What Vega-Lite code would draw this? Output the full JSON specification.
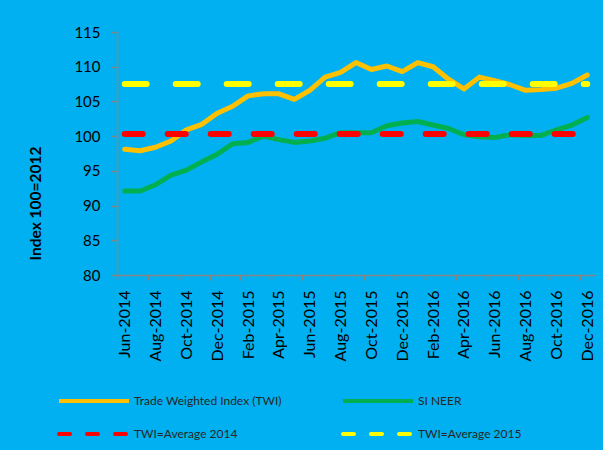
{
  "$schema": "https://vega.github.io/schema/vega-lite/v6.json",
  "width": 478,
  "height": 243,
  "autosize": {"type": "none"},
  "padding": {"left": 117, "top": 32, "right": 8, "bottom": 175},
  "background": "#00B0F0",
  "config": {
    "view": {"stroke": null},
    "font": "Lato",
    "legend": {
      "title": null,
      "orient": "none",
      "direction": "horizontal",
      "columns": 2,
      "symbolType": "stroke",
      "symbolSize": 4900,
      "symbolStrokeWidth": 4,
      "labelFont": "Lato",
      "labelFontSize": 12,
      "labelColor": "#262626",
      "labelOffset": 3,
      "columnPadding": 53,
      "labelLimit": 300
    }
  },
  "data": {
    "values": [
      {"month": "Jun-2014", "Trade Weighted Index (TWI)": 98.1, "SI NEER": 92.1, "TWI=Average 2014": 100.3, "TWI=Average 2015": 107.5},
      {"month": "Jul-2014", "Trade Weighted Index (TWI)": 97.9, "SI NEER": 92.1, "TWI=Average 2014": 100.3, "TWI=Average 2015": 107.5},
      {"month": "Aug-2014", "Trade Weighted Index (TWI)": 98.4, "SI NEER": 93.0, "TWI=Average 2014": 100.3, "TWI=Average 2015": 107.5},
      {"month": "Sep-2014", "Trade Weighted Index (TWI)": 99.3, "SI NEER": 94.4, "TWI=Average 2014": 100.3, "TWI=Average 2015": 107.5},
      {"month": "Oct-2014", "Trade Weighted Index (TWI)": 100.9, "SI NEER": 95.1, "TWI=Average 2014": 100.3, "TWI=Average 2015": 107.5},
      {"month": "Nov-2014", "Trade Weighted Index (TWI)": 101.7, "SI NEER": 96.3, "TWI=Average 2014": 100.3, "TWI=Average 2015": 107.5},
      {"month": "Dec-2014", "Trade Weighted Index (TWI)": 103.3, "SI NEER": 97.4, "TWI=Average 2014": 100.3, "TWI=Average 2015": 107.5},
      {"month": "Jan-2015", "Trade Weighted Index (TWI)": 104.3, "SI NEER": 98.9, "TWI=Average 2014": 100.3, "TWI=Average 2015": 107.5},
      {"month": "Feb-2015", "Trade Weighted Index (TWI)": 105.8, "SI NEER": 99.1, "TWI=Average 2014": 100.3, "TWI=Average 2015": 107.5},
      {"month": "Mar-2015", "Trade Weighted Index (TWI)": 106.1, "SI NEER": 100.0, "TWI=Average 2014": 100.3, "TWI=Average 2015": 107.5},
      {"month": "Apr-2015", "Trade Weighted Index (TWI)": 106.1, "SI NEER": 99.5, "TWI=Average 2014": 100.3, "TWI=Average 2015": 107.5},
      {"month": "May-2015", "Trade Weighted Index (TWI)": 105.3, "SI NEER": 99.1, "TWI=Average 2014": 100.3, "TWI=Average 2015": 107.5},
      {"month": "Jun-2015", "Trade Weighted Index (TWI)": 106.6, "SI NEER": 99.3, "TWI=Average 2014": 100.3, "TWI=Average 2015": 107.5},
      {"month": "Jul-2015", "Trade Weighted Index (TWI)": 108.5, "SI NEER": 99.7, "TWI=Average 2014": 100.3, "TWI=Average 2015": 107.5},
      {"month": "Aug-2015", "Trade Weighted Index (TWI)": 109.2, "SI NEER": 100.5, "TWI=Average 2014": 100.3, "TWI=Average 2015": 107.5},
      {"month": "Sep-2015", "Trade Weighted Index (TWI)": 110.6, "SI NEER": 100.5, "TWI=Average 2014": 100.3, "TWI=Average 2015": 107.5},
      {"month": "Oct-2015", "Trade Weighted Index (TWI)": 109.6, "SI NEER": 100.5, "TWI=Average 2014": 100.3, "TWI=Average 2015": 107.5},
      {"month": "Nov-2015", "Trade Weighted Index (TWI)": 110.1, "SI NEER": 101.5, "TWI=Average 2014": 100.3, "TWI=Average 2015": 107.5},
      {"month": "Dec-2015", "Trade Weighted Index (TWI)": 109.3, "SI NEER": 101.9, "TWI=Average 2014": 100.3, "TWI=Average 2015": 107.5},
      {"month": "Jan-2016", "Trade Weighted Index (TWI)": 110.6, "SI NEER": 102.1, "TWI=Average 2014": 100.3, "TWI=Average 2015": 107.5},
      {"month": "Feb-2016", "Trade Weighted Index (TWI)": 110.0, "SI NEER": 101.6, "TWI=Average 2014": 100.3, "TWI=Average 2015": 107.5},
      {"month": "Mar-2016", "Trade Weighted Index (TWI)": 108.2, "SI NEER": 101.1, "TWI=Average 2014": 100.3, "TWI=Average 2015": 107.5},
      {"month": "Apr-2016", "Trade Weighted Index (TWI)": 106.8, "SI NEER": 100.2, "TWI=Average 2014": 100.3, "TWI=Average 2015": 107.5},
      {"month": "May-2016", "Trade Weighted Index (TWI)": 108.5, "SI NEER": 99.9, "TWI=Average 2014": 100.3, "TWI=Average 2015": 107.5},
      {"month": "Jun-2016", "Trade Weighted Index (TWI)": 108.0, "SI NEER": 99.8, "TWI=Average 2014": 100.3, "TWI=Average 2015": 107.5},
      {"month": "Jul-2016", "Trade Weighted Index (TWI)": 107.4, "SI NEER": 100.2, "TWI=Average 2014": 100.3, "TWI=Average 2015": 107.5},
      {"month": "Aug-2016", "Trade Weighted Index (TWI)": 106.6, "SI NEER": 100.1, "TWI=Average 2014": 100.3, "TWI=Average 2015": 107.5},
      {"month": "Sep-2016", "Trade Weighted Index (TWI)": 106.7, "SI NEER": 100.1, "TWI=Average 2014": 100.3, "TWI=Average 2015": 107.5},
      {"month": "Oct-2016", "Trade Weighted Index (TWI)": 106.9, "SI NEER": 100.9, "TWI=Average 2014": 100.3, "TWI=Average 2015": 107.5},
      {"month": "Nov-2016", "Trade Weighted Index (TWI)": 107.6, "SI NEER": 101.6, "TWI=Average 2014": 100.3, "TWI=Average 2015": 107.5},
      {"month": "Dec-2016", "Trade Weighted Index (TWI)": 108.8, "SI NEER": 102.7, "TWI=Average 2014": 100.3, "TWI=Average 2015": 107.5}
    ]
  },
  "transform": [
    {"fold": ["Trade Weighted Index (TWI)", "SI NEER", "TWI=Average 2014", "TWI=Average 2015"], "as": ["series", "value"]}
  ],
  "encoding": {
    "x": {
      "field": "month",
      "type": "ordinal",
      "sort": null,
      "scale": {"type": "point", "padding": 0.5},
      "axis": {
        "title": null,
        "values": ["Jun-2014", "Aug-2014", "Oct-2014", "Dec-2014", "Feb-2015", "Apr-2015", "Jun-2015", "Aug-2015", "Oct-2015", "Dec-2015", "Feb-2016", "Apr-2016", "Jun-2016", "Aug-2016", "Oct-2016", "Dec-2016"],
        "labelAngle": 270,
        "tickOffset": -7.71,
        "labelOffset": 7.71,
        "domainColor": "#868686",
        "domainWidth": 1.5,
        "tickColor": "#868686",
        "tickWidth": 1.5,
        "tickSize": 5,
        "labelFont": "Lato",
        "labelFontSize": 16,
        "labelColor": "#000000",
        "labelPadding": 10,
        "grid": false
      }
    },
    "y": {
      "field": "value",
      "type": "quantitative",
      "scale": {"domain": [80, 115], "zero": false, "nice": false},
      "axis": {
        "values": [80, 85, 90, 95, 100, 105, 110, 115],
        "title": "Index 100=2012",
        "titleFont": "Lato",
        "titleFontSize": 15.5,
        "titleFontWeight": "bold",
        "titleColor": "#000000",
        "titleAngle": 270,
        "titleAlign": "center",
        "titleBaseline": "middle",
        "titleX": -82,
        "titleY": 171,
        "domainColor": "#868686",
        "domainWidth": 1.5,
        "tickColor": "#868686",
        "tickWidth": 1.5,
        "tickSize": 6,
        "labelFont": "Lato",
        "labelFontSize": 15,
        "labelColor": "#000000",
        "labelPadding": 11,
        "grid": false
      }
    }
  },
  "layer": [
    {
      "transform": [{"filter": "indexof(datum.series, 'Average') < 0"}],
      "mark": {"type": "line", "strokeCap": "round", "strokeJoin": "round", "strokeWidth": 5},
      "encoding": {
        "color": {
          "field": "series",
          "type": "nominal",
          "scale": {
            "domain": ["Trade Weighted Index (TWI)", "SI NEER"],
            "range": ["#FFC000", "#00B050"]
          },
          "legend": {"legendX": -60, "legendY": 332}
        }
      }
    },
    {
      "encoding": {
        "color": {
          "field": "series",
          "type": "nominal",
          "scale": {
            "domain": ["TWI=Average 2014", "TWI=Average 2015"],
            "range": ["#FF0000", "#FFFF00"]
          },
          "legend": {
            "legendX": -60,
            "legendY": 365,
            "columnPadding": 97,
            "symbolDash": [11, 17],
            "encode": {
              "symbols": {
                "update": {
                  "strokeDash": {"value": [11, 17]},
                  "strokeCap": {"value": "round"}
                }
              }
            }
          }
        }
      },
      "layer": [
        {
          "transform": [{"filter": "datum.series === 'TWI=Average 2014'"}],
          "mark": {"type": "line", "strokeCap": "round", "strokeWidth": 6, "strokeDash": [18, 25]}
        },
        {
          "transform": [{"filter": "datum.series === 'TWI=Average 2015'"}],
          "mark": {"type": "line", "strokeCap": "round", "strokeWidth": 6, "strokeDash": [22, 29]}
        }
      ]
    }
  ],
  "resolve": {"scale": {"color": "independent"}}
}
